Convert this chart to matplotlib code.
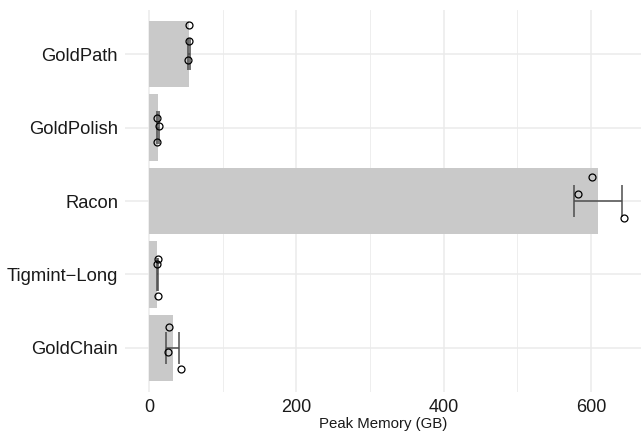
#!/usr/bin/env python3
"""Peak memory per tool: mean bar, sd error bar and the three replicate runs."""

import matplotlib
matplotlib.use('Agg')
import matplotlib.pyplot as plt
import numpy as np

plt.rcParams['font.family'] = ['Liberation Sans', 'DejaVu Sans']

# Data (three runs per tool)
tools = ["GoldPath", "GoldPolish", "Racon", "Tigmint\u2212Long", "GoldChain"]
memory_runs = [
    [54.6, 54.9, 53.5],      # GoldPath
    [11.0, 13.5, 11.0],      # GoldPolish
    [601.0, 582.0, 645.0],   # Racon
    [11.8, 11.2, 11.8],      # Tigmint-Long
    [27.1, 26.2, 42.9],      # GoldChain
]
# vertical jitter of each run as drawn in the reference (category units)
run_jitter = [
    [-0.39, -0.18, 0.08],
    [-0.13, -0.02, 0.20],
    [-0.33, -0.10, 0.23],
    [-0.21, -0.14, 0.29],
    [-0.29, 0.05, 0.29],
]
x_ticks = [0, 200, 400, 600]


def draw_memory_chart(filename):
    fig = plt.figure(figsize=(6.41, 4.34), dpi=100)
    fig.patch.set_facecolor('white')
    ax = fig.add_axes([125 / 641, 1 - 392 / 434, 1 - 125 / 641, (392 - 10) / 434])

    ypos = np.arange(len(tools))
    runs = np.array(memory_runs)
    means = runs.mean(axis=1)
    sds = runs.std(axis=1, ddof=1)

    ax.barh(ypos, means, height=0.9, color='#c9c9c9', zorder=2)

    # error bars: horizontal line with vertical end caps
    ax.hlines(ypos, means - sds, means + sds, color='#4d4d4d', linewidth=1.1, zorder=3)
    for lo, hi, y in zip(means - sds, means + sds, ypos):
        ax.vlines([lo, hi], y - 0.22, y + 0.22, color='#4d4d4d', linewidth=1.1, zorder=3)

    # individual runs
    for i, (vals, jit) in enumerate(zip(memory_runs, run_jitter)):
        ax.plot(vals, i + np.array(jit), linestyle='none', marker='o', markersize=5,
                markerfacecolor='none', markeredgecolor='black', markeredgewidth=0.9,
                zorder=4)

    ax.set_yticks(ypos)
    ax.set_yticklabels(tools, fontsize=13.2, color='#1a1a1a')
    ax.set_xticks(x_ticks)
    ax.set_xticklabels([str(t) for t in x_ticks], fontsize=13, color='#1a1a1a')
    ax.set_xticks([100, 300, 500], minor=True)
    ax.set_xlim(-32.5, 668)
    ax.set_ylim(len(tools) - 0.4, -0.6)

    ax.grid(True, which='major', color='#ebebeb', linewidth=1.1, zorder=0)
    ax.grid(True, which='minor', axis='x', color='#ebebeb', linewidth=0.6, zorder=0)
    ax.set_axisbelow(True)
    ax.tick_params(length=0, pad=5)
    ax.tick_params(which='minor', length=0)
    for spine in ax.spines.values():
        spine.set_visible(False)

    ax.set_xlabel('Peak Memory (GB)', fontsize=10.8, color='#1a1a1a', labelpad=1)

    plt.savefig(filename, dpi=100, facecolor='white')
    plt.close()


if __name__ == '__main__':
    draw_memory_chart('out.png')
